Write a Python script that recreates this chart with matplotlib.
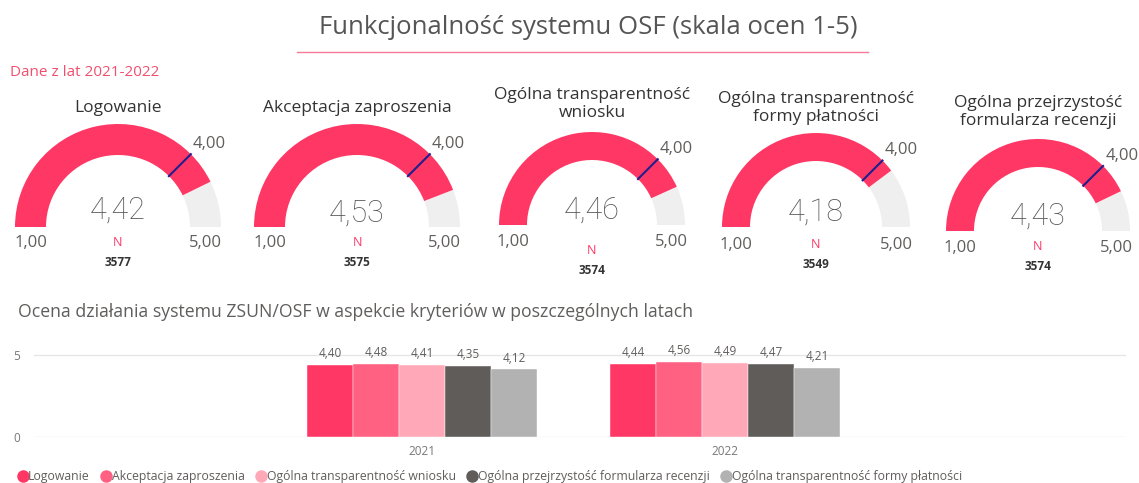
import numpy as np
import matplotlib.pyplot as plt
from matplotlib.patches import Wedge
from matplotlib.lines import Line2D

# gauges
gauge_titles = ['Logowanie', 'Akceptacja zaproszenia', 'Ogólna transparentność\nwniosku',
                'Ogólna transparentność\nformy płatności', 'Ogólna przejrzystość\nformularza recenzji']
gauge_values = [4.42, 4.53, 4.46, 4.18, 4.43]
gauge_n = [3577, 3575, 3574, 3549, 3574]
gauge_min = 1.0
gauge_max = 5.0
gauge_target = 4.0

# bars
years = ['2021', '2022']
series = ['Logowanie', 'Akceptacja zaproszenia', 'Ogólna transparentność wniosku',
          'Ogólna przejrzystość formularza recenzji', 'Ogólna transparentność formy płatności']
vals_2021 = [4.40, 4.48, 4.41, 4.35, 4.12]
vals_2022 = [4.44, 4.56, 4.49, 4.47, 4.21]
colors = ['#FF3764', '#FF6183', '#FFA8B7', '#605C5A', '#B2B2B2']

W, H = 1139, 483
fig = plt.figure(figsize=(W / 100, H / 100), dpi=100)
ov = fig.add_axes([0, 0, 1, 1])
ov.set_xlim(0, W)
ov.set_ylim(0, H)
ov.axis('off')

def Y(y):
    return H - y

def fmt(v):
    return f'{v:.2f}'.replace('.', ',')

FONT = 'Open Sans'
GREY = '#605E5C'
PINK = '#FF3764'

ov.text(588, Y(27), 'Funkcjonalność systemu OSF (skala ocen 1-5)', ha='center', va='center',
        fontsize=18.5, color='#555555', family=FONT)
ov.plot([297, 868], [Y(52), Y(52)], color='#F57A98', lw=1)
ov.text(10, Y(72), 'Dane z lat 2021-2022', ha='left', va='center', fontsize=11,
        color='#F0506E', family=FONT)

# layout of gauges (pixels)
gx = [118, 357, 592, 816, 1038]
gy = [227, 227, 225, 227, 231]
gR = [103, 103, 93, 94, 92]
gt = [31, 31, 28, 28, 28]
title_y = [108, 108, 104, 108, 112]
val_y = [210, 213, 210, 212, 216]
n_y = [242, 242, 250, 244, 246]
lim_y = [243, 243, 242, 245, 248]

for i in range(5):
    cx, cy, R, t = gx[i], Y(gy[i]), gR[i], gt[i]
    frac = (gauge_values[i] - gauge_min) / (gauge_max - gauge_min)
    ang = 180 - 180 * frac
    ov.add_patch(Wedge((cx, cy), R, 0, ang, width=t, facecolor='#F0EFEF', edgecolor='none'))
    ov.add_patch(Wedge((cx, cy), R, ang, 180, width=t, facecolor=PINK, edgecolor='none'))
    ta = np.radians(180 - 180 * (gauge_target - gauge_min) / (gauge_max - gauge_min))
    ov.plot([cx + (R - t) * np.cos(ta), cx + R * np.cos(ta)],
            [cy + (R - t) * np.sin(ta), cy + R * np.sin(ta)], color='#1E1E8C', lw=1.5)
    ov.text(cx + (R + 3) * np.cos(ta), cy + (R + 3) * np.sin(ta) + 8, fmt(gauge_target),
            ha='left', va='center', fontsize=12, color=GREY, family=FONT)
    ov.text(cx, Y(title_y[i]), gauge_titles[i], ha='center', va='center', fontsize=12.5,
            color='#333333', family=FONT, linespacing=1.15)
    ov.text(cx, Y(val_y[i]), fmt(gauge_values[i]), ha='center', va='center',
            fontsize=22, color='#555555', family='Roboto', fontweight='light')
    mid = R - t / 2
    ov.text(cx - mid, Y(lim_y[i]), fmt(gauge_min), ha='center', va='center',
            fontsize=12, color=GREY, family=FONT)
    ov.text(cx + mid, Y(lim_y[i]), fmt(gauge_max), ha='center', va='center',
            fontsize=12, color=GREY, family=FONT)
    ov.text(cx, Y(n_y[i]), 'N', ha='center', va='center', fontsize=9, color=PINK, family=FONT)
    ov.text(cx, Y(n_y[i] + 20), str(gauge_n[i]), ha='center', va='center', fontsize=8.5,
            color='#333333', family=FONT, fontweight='bold')

ov.text(18, Y(312), 'Ocena działania systemu ZSUN/OSF w aspekcie kryteriów w poszczególnych latach',
        ha='left', va='center', fontsize=12.7, color=GREY, family=FONT)

# bar chart
px_unit = 303.0
x0_px, x1_px = 34, 1126
left = (x0_px - 422) / px_unit
right = 1 + (x1_px - 725) / px_unit
ymax = 5.5
bottom_px = 437
top_px = bottom_px - ymax * 16.4
ax = fig.add_axes([x0_px / W, 1 - bottom_px / H, (x1_px - x0_px) / W, (bottom_px - top_px) / H])
ax.set_xlim(left, right)
ax.set_ylim(0, ymax)
data = np.array([vals_2021, vals_2022])
bw = 0.152
xs = np.arange(len(years))
for j, name in enumerate(series):
    pos = xs + (j - 2) * bw
    ax.bar(pos, data[:, j], width=bw, color=colors[j], label=name, edgecolor='white', linewidth=0.3)
    for p, v in zip(pos, data[:, j]):
        ax.text(p, v + 0.3, fmt(v), ha='center', va='bottom', fontsize=8.5,
                color=GREY, family=FONT)
ax.set_yticks([0, 5])
ax.set_xticks(xs)
ax.set_xticklabels(years)
ax.grid(axis='y', color='#E6E6E6', lw=1)
ax.set_axisbelow(True)
for s in ax.spines.values():
    s.set_visible(False)
ax.tick_params(length=0, labelsize=8.5, colors='#777777')
ax.tick_params(axis='y', pad=10)
ax.tick_params(axis='x', pad=6)
for lab in ax.get_xticklabels() + ax.get_yticklabels():
    lab.set_family(FONT)

handles = [Line2D([], [], marker='o', ls='none', color=c, markersize=8) for c in colors]
leg = fig.legend(handles, series, loc='lower left', bbox_to_anchor=(8 / W, -11 / H), ncol=5,
                 frameon=False, handlelength=0.6, handletextpad=0.15, columnspacing=1.05,
                 prop={'family': FONT, 'size': 8.8})
for tx in leg.get_texts():
    tx.set_color(GREY)

fig.savefig('out.png', dpi=100)
